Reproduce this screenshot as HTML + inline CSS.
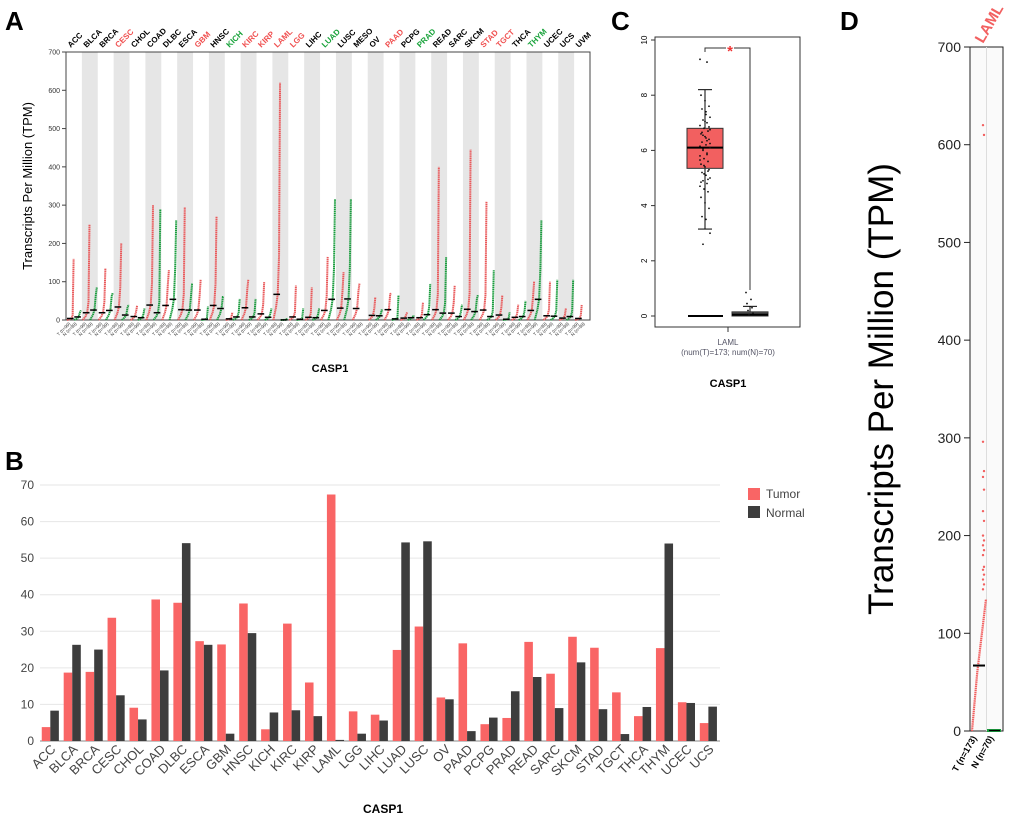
<!DOCTYPE html>
<html><head><meta charset="utf-8"><style>
body{margin:0;background:#fff;font-family:"Liberation Sans",sans-serif}
svg{display:block}
</style></head><body>
<svg id="s" width="1020" height="821" viewBox="0 0 1020 821">
<text x="5" y="30" font-size="26" font-weight="bold">A</text>
<text x="5" y="470" font-size="26" font-weight="bold">B</text>
<text x="611" y="30" font-size="26" font-weight="bold">C</text>
<text x="840" y="30" font-size="26" font-weight="bold">D</text>
<g id="A"></g><g id="B"></g><g id="C"></g><g id="D"></g>
</svg>
<script>
const NS="http://www.w3.org/2000/svg";
function mk(p,t,a,txt){const e=document.createElementNS(NS,t);for(const k in a)e.setAttribute(k,a[k]);if(txt!==undefined)e.textContent=txt;p.appendChild(e);return e;}

// ---------- Panel A data ----------
const aCancers=["ACC","BLCA","BRCA","CESC","CHOL","COAD","DLBC","ESCA","GBM","HNSC","KICH","KIRC","KIRP","LAML","LGG","LIHC","LUAD","LUSC","MESO","OV","PAAD","PCPG","PRAD","READ","SARC","SKCM","STAD","TGCT","THCA","THYM","UCEC","UCS","UVM"];
const aColors=["k","k","k","r","k","k","k","k","r","k","g","r","r","r","r","k","g","k","k","k","r","k","g","k","k","k","r","r","k","g","k","k","k"];
const aTumorMed=[4,19,19,34,9,39,38,27,26,38,3,32,16,67,8,7,25,31,30,12,27,5,6,27,18,28,26,13,7,25,11,5,4];
const aTumorMax=[160,250,135,200,38,300,130,295,105,270,20,105,100,620,90,85,165,125,95,60,70,20,45,400,90,445,310,65,40,100,100,30,40];
const aNormMed=[8,26,25,13,6,19,54,26,2,30,8,8,7,0.3,2,6,54,55,0,11,3,6,14,18,9,22,9,2,9,54,10,9,0];
const aNormMax=[25,85,70,40,30,290,260,95,35,60,55,55,30,5,30,30,315,315,0,25,65,10,95,165,40,65,130,20,50,260,105,105,0];
const aTicks=[0,100,200,300,400,500,600,700];

(function(){
const g=document.getElementById("A");
const x0=66,x1=590,yT=52,yB=320;
const cw=(x1-x0)/aCancers.length;
const y=v=>yB-(v/700)*(yB-yT);
aCancers.forEach((c,i)=>{
  if(i%2==1){const r=mk(g,"rect",{x:x0+i*cw,y:yT,width:cw,height:yB-yT,fill:"#e6e6e6"});
  
  }
});
mk(g,"rect",{x:x0,y:yT,width:x1-x0,height:yB-yT,fill:"none",stroke:"#444","stroke-width":1,});
aTicks.forEach(t=>{mk(g,"line",{x1:x0-4,x2:x0,y1:y(t),y2:y(t),stroke:"#444"});
 const tx=mk(g,"text",{x:x0-6,y:y(t)+2.5,"font-size":7,"text-anchor":"end",fill:"#333"},t);
 });
function group(cx,w,med,max,col){
  const pts=[[cx-w/2,y(0)],[cx-w*0.1,y(med*0.5)],[cx+w*0.15,y(med)],[cx+w*0.35,y(Math.min(max,med*2.5))],[cx+w/2,y(max)]];
  const p=mk(g,"polyline",{points:pts.map(q=>q.join(",")).join(" "),fill:"none",stroke:col,"stroke-width":2,"stroke-dasharray":"1.4 0.5"});
  
  const m=mk(g,"line",{x1:cx-w/2,x2:cx+w/2,y1:y(med),y2:y(med),stroke:"#000","stroke-width":1.5});
  
}
aCancers.forEach((c,i)=>{
  const cx=x0+i*cw;
  group(cx+cw*0.27,cw*0.42,aTumorMed[i],aTumorMax[i],"#e9595b");
  if(aNormMax[i]>0) group(cx+cw*0.73,cw*0.42,aNormMed[i],aNormMax[i],"#1a9c3e");
  const col=aColors[i]=="r"?"#f05050":aColors[i]=="g"?"#19a33b":"#000";
  const t=mk(g,"text",{x:cx+cw*0.3,y:48,"font-size":8,"font-weight":"bold",fill:col,transform:`rotate(-45 ${cx+cw*0.3} 48)`},c);
  
  ["T","N"].forEach((s,k)=>{const xx=cx+cw*(0.3+0.4*k);
   const tl=mk(g,"text",{x:xx,y:324,"font-size":4.5,fill:"#333","text-anchor":"end",transform:`rotate(-45 ${xx} 324)`},s+" (n=99)");
   });
});
mk(g,"text",{x:32,y:186,"font-size":13,"text-anchor":"middle",transform:"rotate(-90 32 186)",},"Transcripts Per Million (TPM)");
mk(g,"text",{x:330,y:372,"font-size":11,"font-weight":"bold","text-anchor":"middle",},"CASP1");
})();

// ---------- Panel B data ----------
const bCats=["ACC","BLCA","BRCA","CESC","CHOL","COAD","DLBC","ESCA","GBM","HNSC","KICH","KIRC","KIRP","LAML","LGG","LIHC","LUAD","LUSC","OV","PAAD","PCPG","PRAD","READ","SARC","SKCM","STAD","TGCT","THCA","THYM","UCEC","UCS"];
const bTumor=[3.8,18.7,18.9,33.7,9.1,38.7,37.8,27.3,26.4,37.6,3.2,32.1,16,67.4,8.1,7.2,24.9,31.3,11.9,26.7,4.6,6.3,27.1,18.4,28.5,25.5,13.3,6.8,25.4,10.6,4.9];
const bNormal=[8.3,26.3,25,12.5,5.9,19.3,54.1,26.3,2,29.5,7.8,8.4,6.8,0.3,2,5.6,54.3,54.6,11.4,2.7,6.4,13.6,17.5,9,21.5,8.7,1.9,9.3,54,10.4,9.4];
const bTicks=[0,10,20,30,40,50,60,70];

(function(){
const g=document.getElementById("B");
const x0=40,x1=720,yT=485,yB=741;
const cw=(x1-x0)/bCats.length;
const y=v=>yB-(v/70)*(yB-yT);
bTicks.forEach(t=>{
  const l=mk(g,"line",{x1:x0,x2:x1,y1:y(t),y2:y(t),stroke:t==0?"#888":"#e6e6e6","stroke-width":1});
  
  const tx=mk(g,"text",{x:x0-6,y:y(t)+4,"font-size":12,"text-anchor":"end",fill:"#444"},t);
  
});
bCats.forEach((c,i)=>{
  const cx=x0+i*cw;const bw=cw*0.39;
  const r1=mk(g,"rect",{x:cx+cw*0.08,y:y(bTumor[i]),width:bw,height:yB-y(bTumor[i]),fill:"#f96565"});
  
  const r2=mk(g,"rect",{x:cx+cw*0.08+bw,y:y(bNormal[i]),width:bw,height:yB-y(bNormal[i]),fill:"#3d3d3d"});
  
  const lx=cx+cw*0.75,ly=750;
  const t=mk(g,"text",{x:lx,y:ly,"font-size":13,fill:"#444","text-anchor":"end",transform:`rotate(-45 ${lx} ${ly})`},c);
  
});
mk(g,"rect",{x:748,y:488,width:12,height:12,fill:"#f96565",});
mk(g,"text",{x:766,y:498,"font-size":12,fill:"#444",},"Tumor");
mk(g,"rect",{x:748,y:506,width:12,height:12,fill:"#3d3d3d",});
mk(g,"text",{x:766,y:517,"font-size":12,fill:"#444",},"Normal");
mk(g,"text",{x:383,y:813,"font-size":12,"font-weight":"bold","text-anchor":"middle",},"CASP1");
})();

// ---------- Panel C data ----------
const cTumorBox=[3.15,5.35,6.1,6.8,8.2];
const cNormalBox=[0,0,0.05,0.15,0.35];
const cTicks=[0,2,4,6,8,10];
const cTumorPoints=[9.3,9.2,2.6,3.0,3.5,3.6,3.9,4.1,4.3,4.5,4.6,4.7,4.8,4.9,5.0,5.1,5.2,5.3,5.4,5.5,5.6,5.7,5.8,5.9,6.0,6.1,6.2,6.3,6.4,6.5,6.6,6.7,6.8,6.9,7.0,7.1,7.2,7.4,7.5,7.6,7.8,8.0,5.25,5.45,5.65,5.85,6.05,6.25,6.45,6.65,6.85,7.05,4.85,4.95,5.15,6.15,6.35,6.55,6.75,7.3];
const cNormalPoints=[0.85,0.6,0.45,0.3,0.2,0.1,0.05];
(function(){
const g=document.getElementById("C");
const x0=655,x1=800,yT=37,yB=327;
const y=v=>316-(v/10)*(316-40);
mk(g,"rect",{x:x0,y:yT,width:x1-x0,height:yB-yT,fill:"none",stroke:"#333",});
cTicks.forEach(t=>{mk(g,"line",{x1:x0-4,x2:x0,y1:y(t),y2:y(t),stroke:"#333"});
 const tx=mk(g,"text",{x:647,y:y(t),"font-size":8,"text-anchor":"middle",transform:`rotate(-90 647 ${y(t)})`},t);
 });
function box(cx,w,b,fill,nm){
  mk(g,"line",{x1:cx,x2:cx,y1:y(b[0]),y2:y(b[4]),stroke:"#000"});
  mk(g,"line",{x1:cx-7,x2:cx+7,y1:y(b[0]),y2:y(b[0]),stroke:"#000"});
  mk(g,"line",{x1:cx-7,x2:cx+7,y1:y(b[4]),y2:y(b[4]),stroke:"#000"});
  const r=mk(g,"rect",{x:cx-w/2,y:y(b[3]),width:w,height:Math.max(2,y(b[1])-y(b[3])),fill:fill,stroke:"#333"});
  
  mk(g,"line",{x1:cx-w/2,x2:cx+w/2,y1:y(b[2]),y2:y(b[2]),stroke:"#000","stroke-width":2});
}
mk(g,"line",{x1:688,x2:723,y1:y(0),y2:y(0),stroke:"#000","stroke-width":2});
box(705,36,cTumorBox,"#f26060","c-tumor-box");
box(750,36,cNormalBox,"#555","c-normal-box");
cTumorPoints.forEach((v,i)=>{const c=mk(g,"circle",{cx:700+((i*7)%11),cy:y(v),r:0.9,fill:"#111"});
 });
cNormalPoints.forEach((v,i)=>{const c=mk(g,"circle",{cx:746+((i*5)%9),cy:y(v),r:0.9,fill:"#111"});
 });
mk(g,"polyline",{points:`705,52 705,48 726,48`,fill:"none",stroke:"#333"});
mk(g,"polyline",{points:`734,48 750,48 750,290`,fill:"none",stroke:"#333"});
mk(g,"text",{x:730,y:56,"font-size":15,"font-weight":"bold",fill:"#e33","text-anchor":"middle",},"*");
mk(g,"line",{x1:728,x2:728,y1:327,y2:332,stroke:"#333"});
mk(g,"text",{x:728,y:345,"font-size":8,fill:"#556","text-anchor":"middle",},"LAML");
mk(g,"text",{x:728,y:355,"font-size":8,fill:"#556","text-anchor":"middle",},"(num(T)=173; num(N)=70)");
mk(g,"text",{x:728,y:387,"font-size":11,"font-weight":"bold","text-anchor":"middle",},"CASP1");
})();

// ---------- Panel D data ----------
const dTumorCurve=[0,20,40,60,75,90,105,120,135];
const dTumorOutliers=[620,610,296,266,260,247,225,215,200,195,190,185,180,168,165,160,155,150,145];
const dTumorMedian=67;
const dNormalMedian=0.5;
const dTicks=[0,100,200,300,400,500,600,700];
(function(){
const g=document.getElementById("D");
const x0=970,x1=1003,yT=47,yB=731;
const y=v=>yB-(v/700)*(yB-yT);
mk(g,"rect",{x:x0,y:yT,width:x1-x0,height:yB-yT,fill:"#fafafa",stroke:"#222",});
mk(g,"line",{x1:986.5,x2:986.5,y1:yT,y2:yB,stroke:"#ddd"});
dTicks.forEach(t=>{mk(g,"line",{x1:x0-6,x2:x0,y1:y(t),y2:y(t),stroke:"#222"});
 const tx=mk(g,"text",{x:x0-9,y:y(t)+5,"font-size":14,"text-anchor":"end",fill:"#222"},t);
 });
const n=dTumorCurve.length;
const pts=dTumorCurve.map((v,i)=>[x0+2+i*(14/(n-1)),y(v)]);
const pl=mk(g,"polyline",{points:pts.map(p=>p.join(",")).join(" "),fill:"none",stroke:"#f26060","stroke-width":2.2,"stroke-dasharray":"1.5 0.6"});

dTumorOutliers.forEach((v,i)=>{const c=mk(g,"circle",{cx:983+(i%2),cy:y(v),r:1.2,fill:"#f26060"});
 });
mk(g,"line",{x1:973,x2:985,y1:y(dTumorMedian),y2:y(dTumorMedian),stroke:"#000","stroke-width":2,});
mk(g,"line",{x1:987,x2:1001,y1:y(dNormalMedian),y2:y(dNormalMedian),stroke:"#1a9c3e","stroke-width":3,});
mk(g,"line",{x1:989,x2:1000,y1:y(dNormalMedian),y2:y(dNormalMedian),stroke:"#000","stroke-width":1.2});
mk(g,"text",{x:983,y:44,"font-size":15,"font-weight":"bold",fill:"#f26060",transform:"rotate(-60 983 44)",},"LAML");
mk(g,"text",{x:893,y:389,"font-size":35,"text-anchor":"middle",transform:"rotate(-90 893 389)",},"Transcripts Per Million (TPM)");
mk(g,"text",{x:977,y:738,"font-size":9,"font-weight":"bold","text-anchor":"end",transform:"rotate(-60 977 738)",},"T (n=173)");
mk(g,"text",{x:994,y:738,"font-size":9,"font-weight":"bold","text-anchor":"end",transform:"rotate(-60 994 738)",},"N (n=70)");
})();
</script>
</body></html>
